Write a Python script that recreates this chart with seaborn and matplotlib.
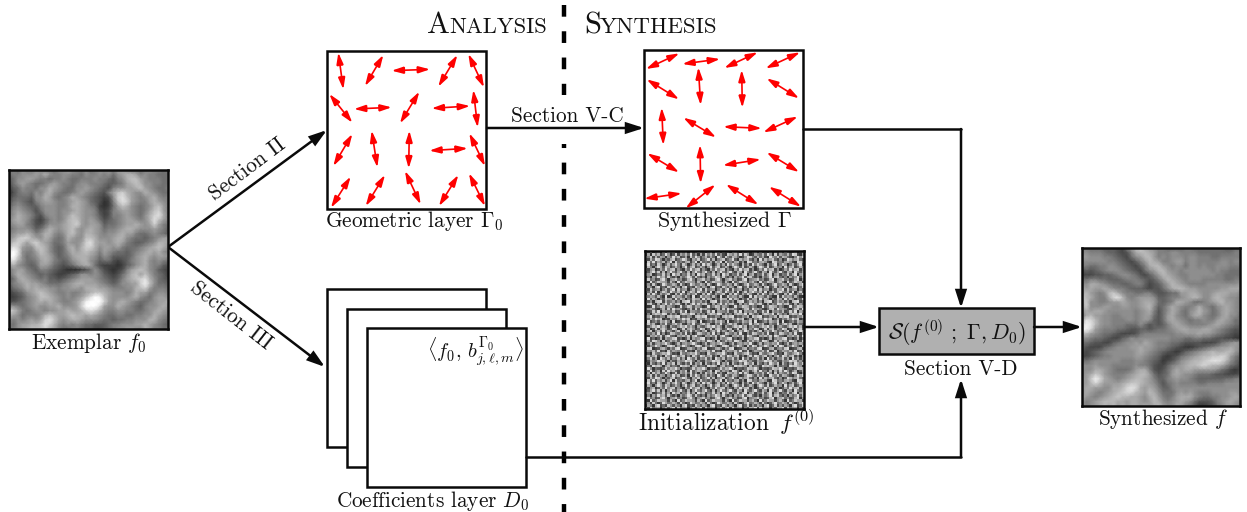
import numpy as np
import matplotlib
matplotlib.use("Agg")
import matplotlib.pyplot as plt
from matplotlib.patches import Rectangle
import seaborn as sns

# Canvas size in pixels
W, H = 1247, 512

# Grey levels (hex digit per cell)
EXEMPLAR_ROWS = [
    "776877 887768 898778 678887 998776 787767",
    "677888 98a877 887768 778786 89aa97 877666",
    "568899 877677 876677 787765 78abb9 877766",
    "468987 667898 776788 777655 679aba 887766",
    "356877 688a98 766889 876547 8899ab 987667",
    "246776 879a87 667898 765479 bca988 a98766",
    "356665 88a976 78a987 654348 cdb987 89a877",
    "467654 789987 789a98 654237 bdc987 79a987",
    "578765 578887 78aa98 763236 9ba876 78ab97",
    "689876 468887 889a98 874347 899876 79bc97",
    "78a987 547887 89ba98 875347 789876 8acda7",
    "79a986 435787 8abb98 986456 789987 8adb97",
    "789976 446888 9abc98 998566 7899a9 89c976",
    "678887 568a98 9ab989 a98677 89aa98 889875",
    "7899a9 78aa87 8ab98a a98788 9a9976 678765",
    "89bcca 98a976 7a988b ba8889 aa8766 567899",
    "9bcb9b ca9866 79889c da9989 a97655 678aa9",
    "bdc988 bba865 69a8ac ca8998 976667 89aba8",
    "dfd877 9ba865 68a9ab a97987 665678 9a9a87",
    "efc867 8aa975 679aaa 986875 555689 a98998",
    "cda866 79a976 5689aa 875664 345789 a87876",
    "9a8765 699865 45689a 964333 235689 a87754",
    "789976 577654 322234 686432 3479ab a87543",
    "68a987 656543 345688 787543 468ab9 b97653",
    "569a98 767554 567899 987654 579abc da8654",
    "5789a9 987666 789aa9 998765 68899c eb8665",
    "4678a9 a99887 88998a aa9987 7788ab c97776",
    "345689 aba987 787789 abba98 8878a9 977887",
    "334578 9bba98 78789b dfeb98 8889a8 768998",
    "445678 9a9a98 7789be fffc98 9a9876 67899a",
    "887678 98899a 8889cf ffd988 a98765 7889a9",
    "cb9767 887889 9a99ac dca877 887766 789a98",
    "a98677 78aba9 9abaa9 a98766 776677 88a987",
    "878789 89cdb9 89aa98 887665 667788 8aa876",
    "76899a abdca8 787876 655567 788899 a98765",
    "6789ab bbca97 667765 544567 889988 a97766",
]
SYNTH_ROWS = [
    "776665 554379 bca987 766667 766666 665566",
    "887776 554347 abba97 778877 776666 666677",
    "998887 765436 89bb97 878887 887776 677777",
    "888888 776543 579ba9 778997 887777 788788",
    "776677 887654 357abb 987886 887877 888777",
    "454567 888765 43689b b98878 888887 877666",
    "333445 567887 643579 ba9877 888888 776666",
    "667766 555677 765457 9ba987 888777 776677",
    "88aa98 766556 775345 79ba98 777788 888889",
    "a9a99a 987765 554344 68abba 998888 899aaa",
    "ab9878 bca877 667754 456699 aa9889 aaa998",
    "cba877 adeb87 899985 567789 aba88a ba9887",
    "bc8877 899a98 89aa96 567aa9 866789 ab9987",
    "ac8889 988998 89ab85 68a987 78a876 89a987",
    "9a9aa9 888888 789a74 68a976 89b986 79a987",
    "7ab998 877888 789964 69a876 8aa876 79a886",
    "aedb98 877788 789854 69a987 677877 9a9866",
    "dfeb98 877766 686454 579a98 777789 a98765",
    "ffd987 776654 455456 6789aa 999aa9 876544",
    "bb9876 654333 467777 777889 99a998 765433",
    "887665 433568 788888 887776 677665 443322",
    "665443 356788 98a987 776654 444333 467898",
    "543335 678889 9a9987 765432 234567 899a98",
    "434567 888888 9a9876 543235 6789ab aabb97",
    "334567 788888 998765 323467 89abbc cdc975",
    "667888 888777 887654 234689 abbcde edb864",
    "888988 877777 877643 35789a bbcdcb ba8653",
    "888aa9 876667 9aa743 468a9a a99999 865323",
    "89acb9 877789 abb964 569a98 876665 443334",
    "99cfda 98789a bba975 578988 765555 556677",
    "99bdb9 999abc cba986 467877 776677 778888",
    "9aa998 8aabde da9a97 557888 888888 888888",
    "9a9878 9abcdd ba9ba8 666898 987778 888998",
    "a98789 abcbba a98ab9 7679aa a87667 7889a9",
    "9789ab bbaa9a a989ba 8789a9 864445 789a98",
    "8789ab ab9a9a a9a9ab 988a97 642234 679987",
]
# Estimated grey levels of the initialization patch
NOISE_SIZE = 64
NOISE_DIGITS = (
    "7391460829573164809257631480972645198307461582934170628395147026"
    "2608471395028164739250618473925108647392850164372950816437298105"
    "9481726505394712608395147263095184276301598427361095482763104958"
    "5173984042681359720648135927046813592074683150927468315029746831"
    "0839264715908342671590834261759083426715098342675109834267510983"
    "6924185037269418503726194850372619485307261948530726914850372691"
    "3740596286137405926813740592681374059628137405962813745092681374"
    "8157026394781520639478152063947815206394781502639478150263947815"
    "4269381705942693170594269317059426931750942693175094269317509426"
    "9570143826095714382609571438260957143826905714382690571438269057"
    "1406395728314063597283140635972831406359278314063592783140635927"
    "6835127940568351279405683512794056835127904568351279056835127905"
    "3092486651730924866517309248665173092486615730924866157309248661"
    "7518302963475183029634751830296347518302693475183026934751830269"
    "2640791318526407913185264079131852640791381526407913815264079138"
    "9183560472691835604726918356047269183560427691835604276918356042"
    "5371904862953719048629537190486295371904826953719048269537190482"
    "0729416358107294163581072941635810729416385107294163851072941638"
    "8465273090184652730901846527309018465273009184652730091846527300"
    "1937504286619375042866193750428661937504282661937504286193750428"
    "6250789173462507891734625078917346250789137462507891374625078913"
    "4782061593847820615938478206159384782061539847820615398478206153"
    "3019248726530192487265301924872653019248762530192487625301924876"
    "9564103718295641037182956410371829564103782956410378295641037829"
    "7128390654371283906543712839065437128390645371283906453712839064"
    "2406875981524068759815240687598152406875918524068759185240687591"
    "8691325407868913254078689132540786891325470868913254708689132547"
    "5374968021653749680216537496802165374968026153749680261537496802"
    "0913527584090135275840901352758409013527548090135275480901352754"
    "6847105392268471053922684710539226847105329268471053292684710532"
    "3258694740632586947406325869474063258694704632586947046325869470"
    "9702816851397028168513970281685139702816815397028168153970281681"
    "1580473926415804739264158047392641580473962415804739624158047396"
    "7436291502874362915028743629150287436291052874362910528743629105"
    "2065748179320657481793206574817932065748197320657481973206574819"
    "8913027064589130270645891302706458913027046589130270465891302704"
    "4629850813746298508137462985081374629850183746298501837462985018"
    "0371564695203715646952037156469520371564659203715646592037156465"
    "7154963028971549630289715496302897154963082971549630829715496308"
    "3890126741538901267415389012674153890126714538901267145389012671"
    "6547391208365473912083654739120836547391280365473912803654739128"
    "1208435769412084357694120843576941208435794120843579412084357941"
    "9736814085297368140852973681408529736814058297368140582973681405"
    "5482609637154826096371548260963715482609361548260936154826093615"
    "2164597830521645978305216459783052164597835216459783521645978352"
    "8073152916480731529164807315291648073152964807315296480731529648"
    "4319786057243197860572431978605724319786507243197865072431978650"
    "6950321384769503213847695032138476950321387695032138769503213876"
)

# Double-headed field arrows (x0, y0, x1, y1), 3x crop coordinates of each box
GEOM_ARROWS = [
    (55, 38, 70, 148), (190, 45, 135, 138), (215, 92, 330, 88), (412, 45, 355, 140), (445, 42, 492, 142),
    (28, 162, 97, 248), (102, 207, 215, 202), (298, 155, 240, 250), (335, 205, 450, 198), (460, 150, 473, 262),
    (97, 282, 40, 378), (155, 272, 172, 382), (268, 272, 266, 385), (328, 332, 443, 325), (448, 280, 495, 378),
    (92, 410, 33, 503), (195, 405, 137, 498), (255, 393, 302, 493), (415, 405, 357, 498), (447, 400, 495, 498),
]
SYNTH_ARROWS = [
    (133, 40, 33, 87), (255, 57, 142, 72), (368, 37, 268, 84), (495, 37, 392, 85),
    (35, 118, 132, 178), (190, 82, 197, 195), (320, 90, 322, 203), (395, 115, 492, 175),
    (80, 203, 85, 315), (145, 233, 243, 292), (265, 260, 380, 265), (488, 230, 385, 277),
    (37, 340, 132, 397), (195, 315, 197, 430), (377, 358, 264, 376), (395, 337, 492, 396),
    (28, 476, 140, 460), (241, 434, 152, 505), (273, 433, 370, 494), (402, 440, 498, 500),
]

sns.set_style("white")
plt.rcParams["mathtext.fontset"] = "cm"
plt.rcParams["font.family"] = ["cmr10", "DejaVu Sans"]
plt.rcParams["axes.formatter.use_mathtext"] = True

fig = plt.figure(figsize=(W / 100, H / 100), dpi=100)
ax = fig.add_axes([0, 0, 1, 1])
ax.set_xlim(0, W)
ax.set_ylim(H, 0)
ax.axis("off")

BLACK = "#0a0a0a"
LW = 1.8


def to_grid(rows):
    return np.array([[int(c, 16) for c in r.replace(" ", "")] for r in rows], dtype=float)


def image_box(grid, x0, y0, x1, y1, **kws):
    # heatmap in its own axes, placed with pixel coordinates
    a = fig.add_axes([x0 / W, 1 - y1 / H, (x1 - x0) / W, (y1 - y0) / H])
    sns.heatmap(grid, ax=a, cmap="gray", cbar=False, xticklabels=False, yticklabels=False, **kws)
    if kws.get("shading") == "gouraud":
        a.set_xlim(0, grid.shape[1] - 1)
        a.set_ylim(grid.shape[0] - 1, 0)
    for s in a.spines.values():
        s.set_visible(True)
        s.set_linewidth(LW)
        s.set_color(BLACK)
    return a


def box(x0, y0, x1, y1, fc="white", z=2):
    ax.add_patch(Rectangle((x0, y0), x1 - x0, y1 - y0, fc=fc, ec=BLACK, lw=LW, zorder=z))


def arrow(x0, y0, x1, y1, z=3):
    ax.annotate("", xy=(x1, y1), xytext=(x0, y0), zorder=z,
                arrowprops=dict(arrowstyle="-|>,head_length=1.0,head_width=0.32", mutation_scale=10,
                                color=BLACK, lw=LW, shrinkA=0, shrinkB=0, joinstyle="miter"))


def red_arrows(arrows, ox, oy):
    for x0, y0, x1, y1 in arrows:
        ax.annotate("", xy=(x1 / 3 + ox, y1 / 3 + oy), xytext=(x0 / 3 + ox, y0 / 3 + oy), zorder=4,
                    arrowprops=dict(arrowstyle="<|-|>,head_length=0.7,head_width=0.21", mutation_scale=10,
                                    color="#fe0000", lw=1.2, shrinkA=0, shrinkB=0, joinstyle="miter"))


# Dashed separator, hidden behind a white patch around the Section V-C label
ax.plot([564, 564], [5, 512], color="black", lw=3.2, linestyle=(0, (2.63, 3.28)), zorder=1)
ax.add_patch(Rectangle((545, 95), 40, 49, fc="white", ec="none", zorder=1.5))

# Textures
image_box(to_grid(EXEMPLAR_ROWS), 9, 170, 168, 329, shading="gouraud", vmin=-1, vmax=15)
image_box(to_grid(SYNTH_ROWS), 1082, 248, 1240, 406, shading="gouraud", vmin=-2, vmax=16)
digits = np.array([int(c) for c in NOISE_DIGITS], dtype=float)
noise = np.resize(digits, (NOISE_SIZE, NOISE_SIZE))
image_box(noise, 645, 251, 804, 409, vmin=-3, vmax=11)

# Boxes
box(327, 51, 486, 209)
box(644, 50, 803, 208)
box(327, 289, 486, 447, z=2)
box(347, 309, 506, 467, z=2.1)
box(367, 328, 526, 487, z=2.2)
box(879, 308, 1034, 354, fc="#b0b0b0")

red_arrows(GEOM_ARROWS, 320, 40)
red_arrows(SYNTH_ARROWS, 635, 40)

# Connections
arrow(168, 247, 327, 130)
arrow(168, 247, 325, 367)
arrow(487, 128, 644, 128)
ax.plot([803, 961], [129, 129], color=BLACK, lw=LW)
arrow(961, 129, 961, 308)
arrow(804, 327, 879, 327)
arrow(1034, 327, 1082, 327)
ax.plot([526, 961], [457, 457], color=BLACK, lw=LW, zorder=3)
arrow(961, 457, 961, 379)

# Labels
FS = 15.3
TXT = "#111111"
ax.text(427, 33, "A", fontsize=22, color=TXT, va="baseline")
ax.text(449, 33, "NALYSIS", fontsize=16.2, color=TXT, va="baseline")
ax.text(584, 33, "S", fontsize=22, color=TXT, va="baseline")
ax.text(600, 33, "YNTHESIS", fontsize=16.5, color=TXT, va="baseline")
ax.text(567, 122, "Section V-C", fontsize=FS, color=TXT, ha="center", va="baseline", zorder=5)
ax.text(247, 169, "Section II", fontsize=FS, color=TXT, ha="center", va="center", rotation=37)
ax.text(231, 316, "Section III", fontsize=FS, color=TXT, ha="center", va="center", rotation=-38)
ax.text(89, 349, r"Exemplar $f_0$", fontsize=FS, color=TXT, ha="center", va="baseline")
ax.text(414, 227, r"Geometric layer $\Gamma_0$", fontsize=FS, color=TXT, ha="center", va="baseline")
ax.text(724, 227, r"Synthesized $\Gamma$", fontsize=15.8, color=TXT, ha="center", va="baseline")
ax.text(726, 431, r"Initialization $\,f^{(0)}$", fontsize=16.8, color=TXT, ha="center", va="baseline")
ax.text(961, 375, "Section V-D", fontsize=FS, color=TXT, ha="center", va="baseline", zorder=5)
ax.text(1163, 425, r"Synthesized $f$", fontsize=FS, color=TXT, ha="center", va="baseline")
ax.text(433, 507, r"Coefficients layer $D_0$", fontsize=FS, color=TXT, ha="center", va="baseline")
ax.text(957, 340, r"$\mathcal{S}(f^{(0)}\ ;\ \Gamma, D_0)$", fontsize=15.8, color=TXT, ha="center", va="baseline", zorder=5)
ax.text(524, 358, r"$\langle f_0,\, b_{j,\ell,m}^{\Gamma_0}\rangle$", fontsize=14.7, color=TXT, ha="right", va="baseline", zorder=5)

fig.savefig("out.png", dpi=100)
